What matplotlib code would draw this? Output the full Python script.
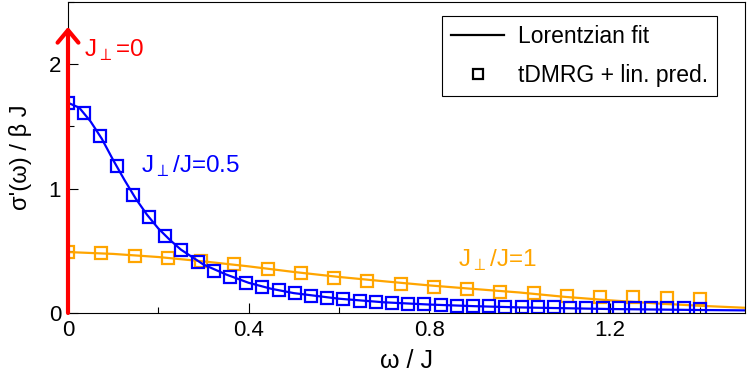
import matplotlib
matplotlib.use("Agg")
import matplotlib.pyplot as plt
from matplotlib.ticker import MultipleLocator, FixedLocator

plt.rcParams["font.family"] = ["Liberation Sans", "DejaVu Sans"]
plt.rcParams["mathtext.fontset"] = "dejavusans"

# tDMRG + linear prediction, J_perp/J = 0.5 (40 points from 0 to 1.4)
blue_x = [k * 1.4 / 39 for k in range(40)]
blue_y = [1.69, 1.61, 1.42, 1.18, 0.95, 0.77, 0.62, 0.51, 0.41, 0.34,
          0.29, 0.24, 0.21, 0.185, 0.158, 0.139, 0.123, 0.11, 0.099, 0.091,
          0.083, 0.075, 0.07, 0.064, 0.059, 0.056, 0.053, 0.051, 0.049, 0.047,
          0.045, 0.044, 0.043, 0.042, 0.041, 0.040, 0.039, 0.038, 0.037, 0.036]

# J_perp/J = 1 (20 points from 0 to 1.4)
orange_x = [k * 1.4 / 19 for k in range(20)]
orange_y = [0.488, 0.48, 0.46, 0.445, 0.42, 0.39, 0.354, 0.32, 0.284, 0.26,
            0.233, 0.21, 0.19, 0.171, 0.158, 0.139, 0.131, 0.126, 0.118, 0.113]

# Lorentzian fits
blue_fit_x = [0, 0.025, 0.05, 0.075, 0.1, 0.125, 0.15, 0.175, 0.2, 0.225, 0.25,
              0.275, 0.3, 0.325, 0.35, 0.4, 0.45, 0.5, 0.6, 0.7, 0.8, 0.9,
              1.0, 1.2, 1.4, 1.5]
blue_fit_y = [1.69, 1.65, 1.54, 1.40, 1.23, 1.07, 0.92, 0.79, 0.68, 0.59, 0.51,
              0.45, 0.39, 0.35, 0.31, 0.243, 0.195, 0.16, 0.115, 0.086, 0.068, 0.055,
              0.045, 0.032, 0.024, 0.021]
orange_fit_x = [0, 0.1, 0.2, 0.3, 0.4, 0.5, 0.6, 0.7, 0.8, 0.9, 1.0, 1.1, 1.2,
                1.3, 1.4, 1.5]
orange_fit_y = [0.49, 0.475, 0.45, 0.415, 0.375, 0.33, 0.29, 0.255, 0.222, 0.193,
                0.165, 0.13, 0.102, 0.078, 0.058, 0.042]

BLUE = "#0000ff"
ORANGE = "#ffa500"
RED = "#ff0000"

fig = plt.figure(figsize=(7.47, 3.73), dpi=100)
ax = fig.add_axes([68 / 747, 60 / 373, 677 / 747, 311 / 373])

ax.plot(orange_fit_x, orange_fit_y, color=ORANGE, lw=1.6)
ax.plot(orange_x, orange_y, ls="none", marker="s", ms=8.3, mfc="none",
        mec=ORANGE, mew=1.6)
ax.plot(blue_fit_x, blue_fit_y, color=BLUE, lw=1.6)
ax.plot(blue_x, blue_y, ls="none", marker="s", ms=8.3, mfc="none",
        mec=BLUE, mew=1.6)

# J_perp = 0: delta peak at omega = 0
ax.annotate("", xy=(0, 2.3), xytext=(0, 0),
            arrowprops=dict(arrowstyle="->,head_length=0.9,head_width=0.75",
                            color=RED, lw=3, shrinkA=0, shrinkB=0))

ax.text(0.036, 2.06, r"J$_\perp$=0", color=RED, fontsize=17.5)
ax.text(0.162, 1.13, r"J$_\perp$/J=0.5", color=BLUE, fontsize=17.5)
ax.text(0.864, 0.37, r"J$_\perp$/J=1", color=ORANGE, fontsize=17.5)

# legend proxies
ax.plot([], [], color="black", lw=1.6, label="Lorentzian fit")
ax.plot([], [], ls="none", marker="s", ms=7, mfc="none", mec="black",
        mew=1.6, label="tDMRG + lin. pred.")
handles, labels = ax.get_legend_handles_labels()
leg = ax.legend(handles[-2:], labels[-2:], loc="upper right",
                bbox_to_anchor=(0.9587, 0.955), borderaxespad=0,
                fontsize=16.5, fancybox=False, edgecolor="black",
                framealpha=1, handlelength=2.3, handletextpad=0.6,
                borderpad=0.4, labelspacing=0.7)
leg.get_frame().set_linewidth(0.8)

ax.set_xlim(0, 1.5)
ax.set_ylim(0, 2.5)
ax.xaxis.set_major_locator(FixedLocator([0, 0.4, 0.8, 1.2]))
ax.xaxis.set_minor_locator(MultipleLocator(0.2))
ax.yaxis.set_major_locator(FixedLocator([0, 1, 2]))
ax.yaxis.set_minor_locator(MultipleLocator(0.5))
ax.set_xticklabels(["0", "0.4", "0.8", "1.2"])
ax.tick_params(which="both", direction="in", labelsize=16, pad=5)
ax.tick_params(which="major", length=7, width=0.8)
ax.tick_params(which="minor", length=4.5, width=0.8)

ax.set_xlabel("ω / J", fontsize=18, labelpad=6)
ax.set_ylabel("σ'(ω) / β J", fontsize=17, labelpad=12)

fig.savefig("out.png", dpi=100)
